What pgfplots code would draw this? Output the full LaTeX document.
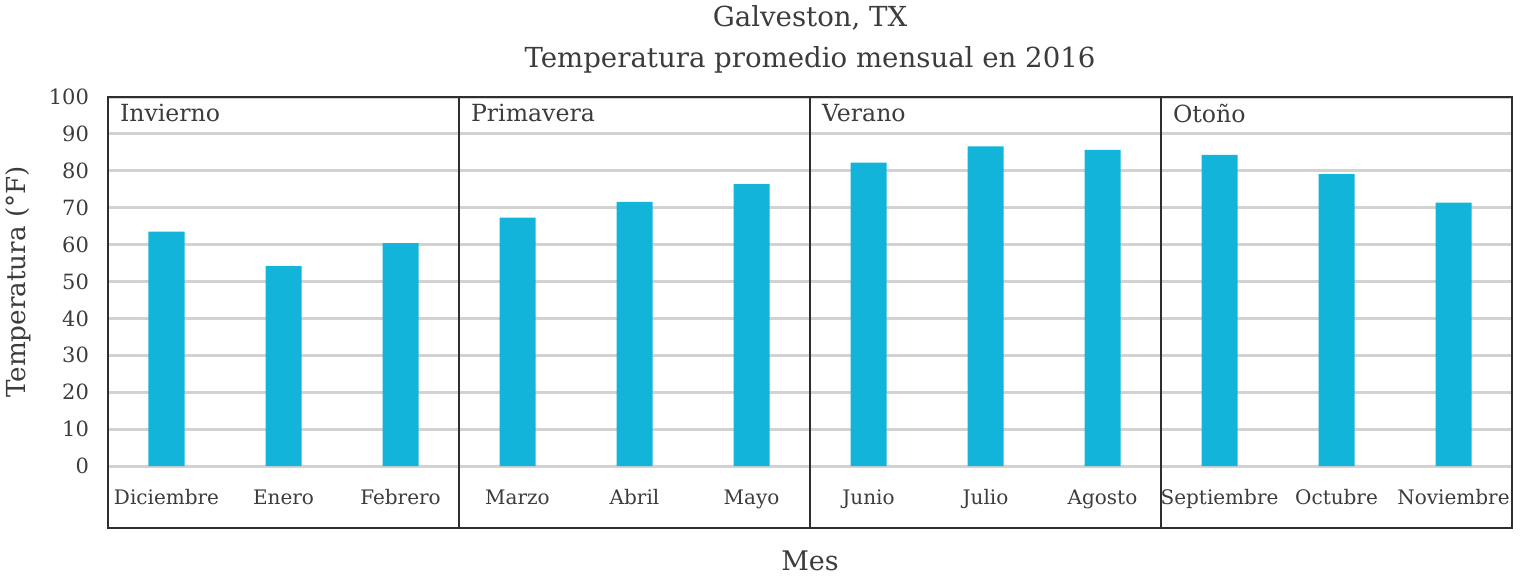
\documentclass[border=0pt]{standalone}
\usepackage{fontspec}
\setmainfont{DejaVu Serif}
\usepackage{pgfplots}
\pgfplotsset{compat=1.18}
\definecolor{txt}{HTML}{3C3C3C}
\definecolor{barc}{HTML}{12B5D9}
\definecolor{gridc}{HTML}{D2D2D2}
\definecolor{framec}{HTML}{2E2E2E}
\begin{document}
\begin{tikzpicture}
\begin{axis}[
  at={(0,0)}, anchor=south west,
  scale only axis, width=702pt, height=215.5pt,
  xmin=-0.5, xmax=11.5, ymin=-16.8, ymax=100,
  axis line style={draw=framec, line width=1pt},
  xtick={0,...,11},
  xticklabels={Diciembre,Enero,Febrero,Marzo,Abril,Mayo,Junio,Julio,Agosto,Septiembre,Octubre,Noviembre},
  xticklabel style={anchor=base, yshift=12pt, font=\fontsize{10}{12}\selectfont, text=txt},
  ytick={0,10,...,100},
  yticklabel style={font=\fontsize{10.5}{12}\selectfont, text=txt, xshift=-6pt},
  /pgf/number format/assume math mode=true,
  major tick length=0pt,
  ymajorgrids, major grid style={draw=gridc, line width=1.5pt},
  extra x ticks={2.5,5.5,8.5},
  extra x tick labels={},
  extra x tick style={grid=major, major grid style={draw=framec, line width=0.8pt}},
  clip=false,
]
\addplot[ybar, bar width=18pt, fill=barc, draw=none] coordinates {
 (0,63.5) (1,54.2) (2,60.4) (3,67.3) (4,71.6) (5,76.4)
 (6,82.2) (7,86.6) (8,85.7) (9,84.3) (10,79.1) (11,71.4)};
\coordinate (SW) at (rel axis cs:0,0);
\node[anchor=west, text=txt, font=\fontsize{11.8}{13}\selectfont] at ([xshift=2.5pt,yshift=-8pt]axis cs:-0.5,100) {Invierno};
\node[anchor=west, text=txt, font=\fontsize{11.8}{13}\selectfont] at ([xshift=2.5pt,yshift=-8pt]axis cs:2.5,100) {Primavera};
\node[anchor=west, text=txt, font=\fontsize{11.8}{13}\selectfont] at ([xshift=2.5pt,yshift=-8pt]axis cs:5.5,100) {Verano};
\node[anchor=west, text=txt, font=\fontsize{11.8}{13}\selectfont] at ([xshift=2.5pt,yshift=-8pt]axis cs:8.5,100) {Otoño};
\end{axis}
\node[anchor=base, text=txt, font=\fontsize{13.8}{16}\selectfont] at ([shift={(351pt,251pt)}]SW) {Galveston, TX};
\node[anchor=base, text=txt, font=\fontsize{13.8}{16}\selectfont] at ([shift={(351pt,230pt)}]SW) {Temperatura promedio mensual en 2016};
\node[anchor=base, text=txt, font=\fontsize{13.5}{15}\selectfont] at ([shift={(351pt,-21pt)}]SW) {Mes};
\node[rotate=90, anchor=center, text=txt, font=\fontsize{13.1}{15}\selectfont] at ([shift={(-45pt,123pt)}]SW) {Temperatura (°F)};
\pgfresetboundingbox
\path[use as bounding box] ([shift={(-54pt,-26pt)}]SW) rectangle ([shift={(706.5pt,264pt)}]SW);
\end{tikzpicture}
\end{document}
